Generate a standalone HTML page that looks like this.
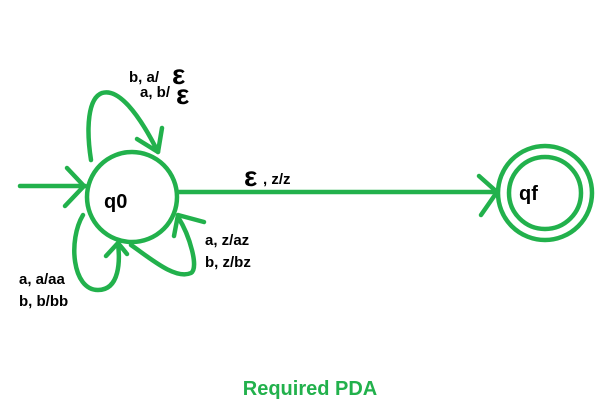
<!DOCTYPE html>
<html><head><style>
html,body{margin:0;padding:0;background:#fff;}
svg{display:block;}
text{font-family:"Liberation Sans",sans-serif;font-weight:bold;}
</style></head><body>
<svg width="602" height="405" viewBox="0 0 602 405" xmlns="http://www.w3.org/2000/svg">
<g fill="none" stroke="#22b14c" stroke-width="4.5" stroke-linecap="round" stroke-linejoin="round">
<circle cx="132" cy="197" r="45"/>
<circle cx="545" cy="193" r="47"/>
<circle cx="545" cy="193" r="36"/>
<line x1="20" y1="186" x2="85" y2="186"/>
<polyline points="67,168 84,186 65,206"/>
<line x1="177" y1="192" x2="497" y2="192"/>
<polyline points="479,176 497,192 481,215"/>
<path d="M91,160 C86,128 88,98 102,93 C118,88 138,112 158,152"/>
<polyline points="137,139 158,152 162,128"/>
<path d="M83,215 C68,240 72,290 98,290 C120,290 120,260 118,244"/>
<polyline points="106,256 118,243 127,254"/>
<path d="M131,245 C150,258 175,280 191,273 C199,268 190,236 178,217"/>
<polyline points="204,222 178,215 174,236"/>
</g>
<g font-size="15" fill="#000">
<text x="129" y="82">b, a/</text>
<text x="140" y="97">a, b/</text>
<text x="263" y="184">, z/z</text>
<text x="205" y="245">a, z/az</text>
<text x="205" y="267">b, z/bz</text>
<text x="19" y="284">a, a/aa</text>
<text x="19" y="306">b, b/bb</text>
</g>
<g font-size="28" fill="#000" font-weight="bold" font-family="Liberation Serif">
<text x="172" y="84">ε</text>
<text x="176" y="104">ε</text>
<text x="244" y="186">ε</text>
</g>
<text x="104" y="208" font-size="20" fill="#000">q0</text>
<text x="519" y="200" font-size="20" fill="#000">qf</text>
<text x="310" y="395" font-size="20" fill="#22b14c" text-anchor="middle">Required PDA</text>
</svg>
</body></html>
